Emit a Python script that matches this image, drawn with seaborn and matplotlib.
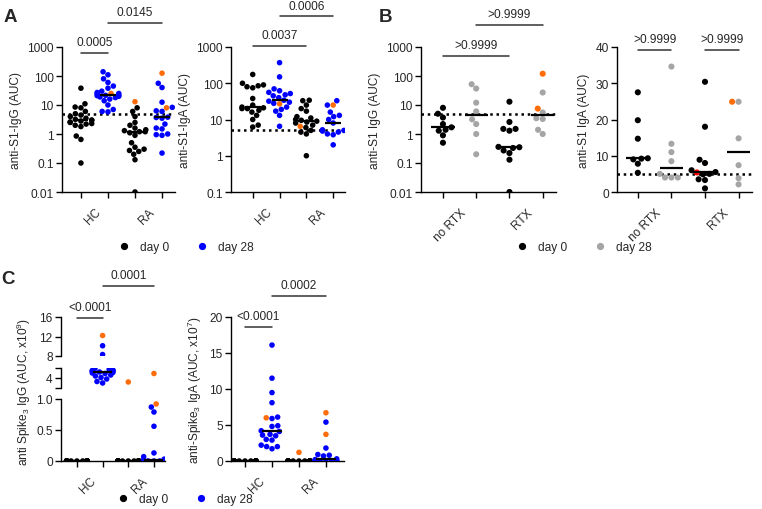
import matplotlib

matplotlib.use("Agg")
import matplotlib.pyplot as plt
import matplotlib.transforms as mtransforms
import numpy as np
import pandas as pd
import seaborn as sns
from matplotlib.lines import Line2D
from matplotlib.ticker import NullLocator

W, H = 762, 510
FS = 8.6

BLACK = "#000000"
BLUE = "#0000ff"
GREY = "#a5a5a5"
ORANGE = "#ff6c0a"
RED = "#ff0000"

# ---------------- data ----------------
LABELS_RA = ["HC", "RA"]
LABELS_RTX = ["no RTX", "RTX"]
LOG_TICKS_A1 = [0.01, 0.1, 1, 10, 100, 1000]
LOG_LABELS_A1 = ["0.01", "0.1", "1", "10", "100", "1000"]
LOG_TICKS_A2 = [0.1, 1, 10, 100, 1000]
LOG_LABELS_A2 = ["0.1", "1", "10", "100", "1000"]

# A: anti-S1 IgG
a1_hc_d0 = [38, 11, 8.5, 8, 6, 5, 4.5, 4, 3.5, 3.2, 3, 3, 2.8, 2.6, 2.5, 2.3, 2.2, 2, 1.8, 0.85, 0.65, 0.1]
a1_hc_d28 = [140, 110, 80, 60, 45, 38, 21.5, 30, 27, 25, 24, 22, 21, 20, 19, 18, 16, 14, 10, 7, 6, 5.8]
a1_hc_d28_hl = [25]
a1_ra_d0 = [8, 6, 4, 2.5, 2, 1.6, 1.4, 1.3, 1.2, 1.2, 1.1, 0.9, 0.5, 0.35, 0.3, 0.27, 0.25, 0.2, 0.13, 0.01]
a1_ra_d0_hl = [13]
a1_ra_d28 = [56, 40, 12.5, 8.3, 6.3, 6.0, 3.8, 3.7, 3.5, 2.2, 1.6, 1.5, 1.0, 0.95, 0.9, 0.22]
a1_ra_d28_hl = [125, 8]

# A: anti-S1 IgA
a2_hc_d0 = [175, 100, 90, 85, 80, 75, 38, 25, 22, 21, 20, 20, 18, 16, 13, 10, 7, 6.2]
a2_hc_d28 = [370, 150, 70, 62, 56, 52, 48, 45, 40, 34, 32, 30, 28, 22, 19, 17, 13, 6.5]
a2_hc_d28_hl = [27]
a2_ra_d0 = [34, 33, 25, 20, 17, 12, 11, 10, 9.5, 9, 8.5, 8, 7, 6, 5, 4.5, 4, 1.0]
a2_ra_d0_hl = [6.5]
a2_ra_d28 = [33, 25, 16, 13, 12, 10, 8, 5.2, 5, 4.8, 4.5, 4, 3.8, 2.0]
a2_ra_d28_hl = [25]

# B: anti-S1 IgG by RTX
b1_norx_d0 = [8, 5, 3.7, 2.2, 1.7, 1.4, 1.3, 0.9, 0.5]
b1_norx_d28 = [52, 37, 12, 6, 3.2, 2.2, 1.0, 0.2]
b1_rtx_d0 = [13, 2.6, 1.5, 1.5, 1.3, 0.36, 0.35, 0.33, 0.27, 0.22, 0.13, 0.01]
b1_rtx_d28 = [27, 5.5, 3.5, 3.3, 1.4, 1.0]
b1_rtx_d28_hl = [120, 7.5]

# B: anti-S1 IgA by RTX
b2_norx_d0 = [27.5, 19.8, 14.7, 9.3, 9.2, 9.0, 7.8, 5.3]
b2_norx_d28 = [34.6, 13.3, 11, 8.5, 5.0, 4.0, 4.0, 4.0]
b2_rtx_d0 = [30.4, 18, 8.9, 8.0, 6.0, 5.5, 5.0, 4.9, 3.5, 3.3, 1.0]
b2_rtx_d0_red = [5.4]
b2_rtx_d28 = [24.9, 14.8, 7.4, 3.8, 2.1]
b2_rtx_d28_hl = [24.9]

# C: anti-Spike3 IgG (x10^9)
c1_hc_d0 = [0, 0, 0, 0, 0, 0, 0, 0, 0, 0, 0, 0, 0, 0, 0, 0, 0, 0, 0, 0, 0, 0]
c1_hc_d28 = [10.1, 8.3, 5.9, 5.7, 5.6, 5.5, 5.5, 5.4, 5.3, 5.3, 5.2, 5.1, 5.0, 4.9, 4.6, 4.4, 4.1, 3.8, 3.3, 3.0]
c1_hc_d28_hl = [12.2]
c1_ra_d0 = [0, 0, 0, 0, 0, 0, 0, 0, 0, 0, 0, 0, 0, 0, 0, 0, 0, 0, 0]
c1_ra_d0_hl = [3.2]
c1_ra_d28 = [0.87, 0.79, 0.56, 0.13, 0.07, 0.03, 0.02, 0, 0, 0, 0, 0, 0, 0, 0, 0]
c1_ra_d28_hl = [0.92, 4.9]

# C: anti-Spike3 IgA (x10^7)
c2_hc_d0 = [0, 0, 0, 0, 0, 0, 0, 0, 0, 0, 0, 0, 0, 0, 0, 0, 0, 0, 0, 0, 0, 0]
c2_hc_d28 = [16.1, 11.5, 9.5, 8.1, 6.1, 5.9, 4.9, 4.8, 4.2, 4.1, 3.7, 3.6, 3.5, 3.0, 2.9, 2.2, 2.0, 2.0, 1.7]
c2_hc_d28_hl = [6.0]
c2_ra_d0 = [0, 0, 0, 0, 0, 0, 0, 0, 0, 0, 0, 0, 0, 0, 0, 0, 0, 0, 0]
c2_ra_d0_hl = [1.2]
c2_ra_d28 = [5.4, 1.8, 0.9, 0.8, 0.7, 0.3, 0.2, 0, 0, 0, 0, 0, 0, 0]
c2_ra_d28_hl = [6.7, 3.7]

sns.set_theme(style="ticks")
plt.rcParams["font.family"] = ["Liberation Sans", "DejaVu Sans"]
plt.rcParams["mathtext.fontset"] = "custom"
plt.rcParams["mathtext.rm"] = "Liberation Sans"
plt.rcParams["mathtext.it"] = "Liberation Sans:italic"
plt.rcParams["axes.linewidth"] = 1.0
plt.rcParams["axes.edgecolor"] = "black"

fig = plt.figure(figsize=(W / 100, H / 100), dpi=100)


def px_axes(left, top, right, bottom):
    return fig.add_axes([left / W, 1 - bottom / H, (right - left) / W, (bottom - top) / H])


def draw_groups(ax, groups, palette, half_width, size=4.0):
    rows = []
    for i, (vals, hl, kind, hl_kind) in enumerate(groups):
        rows += [(str(i), v, kind) for v in vals]
        rows += [(str(i), v, hl_kind) for v in hl]
    df = pd.DataFrame(rows, columns=["pos", "value", "kind"])
    sns.swarmplot(data=df, x="pos", y="value", hue="kind", order=[str(i) for i in range(len(groups))],
                  palette=palette, size=size, linewidth=0, legend=False, ax=ax, zorder=3)
    for i, (vals, hl, _, _) in enumerate(groups):
        med = np.median(list(vals) + list(hl))
        ax.hlines(med, i - half_width, i + half_width, color="black", lw=1.6, zorder=4)


def style_axis(ax, xlim, labels, show_x=True):
    ax.set_xlim(*xlim)
    ax.spines[["top", "right"]].set_visible(False)
    ax.set_xlabel("")
    ax.yaxis.set_minor_locator(NullLocator())
    ax.tick_params(axis="both", which="major", length=4, width=1, labelsize=FS, color="black", pad=2)
    if show_x:
        ax.set_xticks([0, 1, 2, 3])
        ax.set_xticklabels([])
        ax.set_xticks([0.5, 2.5], minor=True)
        ax.set_xticklabels(labels, minor=True, rotation=45, ha="right", rotation_mode="anchor", fontsize=FS)
        ax.tick_params(axis="x", which="minor", length=0, pad=10)
    else:
        ax.spines["bottom"].set_visible(False)
        ax.set_xticks([])


def sig_bar(ax, x0, x1, y_px, text, gap=11):
    blend = mtransforms.blended_transform_factory(ax.transData, fig.transFigure)
    ax.plot([x0, x1], [1 - y_px / H] * 2, transform=blend, clip_on=False, color="#333333", lw=1.1)
    ax.text((x0 + x1) / 2, 1 - (y_px - gap) / H, text, transform=blend, ha="center", va="center", fontsize=FS)


pal_blue = {"d0": BLACK, "d28": BLUE, "hl": ORANGE, "red": RED}
pal_grey = {"d0": BLACK, "d28": GREY, "hl": ORANGE, "red": RED}

# ---- A1 ----
ax = px_axes(62, 48, 175, 193)
ax.set_yscale("log")
draw_groups(ax, [(a1_hc_d0, [], "d0", "hl"), (a1_hc_d28, a1_hc_d28_hl, "d28", "hl"),
                 (a1_ra_d0, a1_ra_d0_hl, "d0", "hl"), (a1_ra_d28, a1_ra_d28_hl, "d28", "hl")], pal_blue, 0.28)
ax.axhline(5, color="black", ls=(0, (1, 1.5)), lw=1.8, zorder=2)
ax.set_ylim(0.01, 1000)
ax.set_yticks(LOG_TICKS_A1)
ax.set_yticklabels(LOG_LABELS_A1)
ax.set_ylabel("anti-S1-IgG (AUC)", fontsize=FS)
style_axis(ax, (-0.7, 3.48), LABELS_RA)
sig_bar(ax, 0, 1, 54, "0.0005")
sig_bar(ax, 1, 3, 24, "0.0145")

# ---- A2 ----
ax = px_axes(231, 48, 345, 193)
ax.set_yscale("log")
draw_groups(ax, [(a2_hc_d0, [], "d0", "hl"), (a2_hc_d28, a2_hc_d28_hl, "d28", "hl"),
                 (a2_ra_d0, a2_ra_d0_hl, "d0", "hl"), (a2_ra_d28, a2_ra_d28_hl, "d28", "hl")], pal_blue, 0.3)
ax.axhline(5, color="black", ls=(0, (1, 1.5)), lw=1.8, zorder=2)
ax.set_ylim(0.1, 1000)
ax.set_yticks(LOG_TICKS_A2)
ax.set_yticklabels(LOG_LABELS_A2)
ax.set_ylabel("anti-S1-IgA (AUC)", fontsize=FS)
style_axis(ax, (-0.81, 3.44), LABELS_RA)
sig_bar(ax, 0, 2, 47, "0.0037")
sig_bar(ax, 1, 3, 17, "0.0006", gap=10)

# ---- B1 ----
ax = px_axes(421, 48, 556, 193)
ax.set_yscale("log")
draw_groups(ax, [(b1_norx_d0, [], "d0", "hl"), (b1_norx_d28, [], "d28", "hl"),
                 (b1_rtx_d0, [], "d0", "hl"), (b1_rtx_d28, b1_rtx_d28_hl, "d28", "hl")], pal_grey, 0.35, size=4.4)
ax.axhline(5, color="black", ls=(0, (1, 1.5)), lw=1.8, zorder=2)
ax.set_ylim(0.01, 1000)
ax.set_yticks(LOG_TICKS_A1)
ax.set_yticklabels(LOG_LABELS_A1)
ax.set_ylabel("anti-S1 IgG (AUC)", fontsize=FS)
style_axis(ax, (-0.66, 3.4), LABELS_RTX)
sig_bar(ax, 0, 2, 57, ">0.9999")
sig_bar(ax, 1, 3, 26, ">0.9999")

# ---- B2 ----
ax = px_axes(617, 48, 752, 193)
draw_groups(ax, [(b2_norx_d0, [], "d0", "hl"), (b2_norx_d28, [], "d28", "hl"),
                 (b2_rtx_d0, b2_rtx_d0_red, "d0", "red"), (b2_rtx_d28, b2_rtx_d28_hl, "d28", "hl")], pal_grey, 0.35, size=4.4)
ax.axhline(5, color="black", ls=(0, (1, 1.5)), lw=1.8, zorder=2)
ax.set_ylim(0, 40)
ax.set_yticks([0, 10, 20, 30, 40])
ax.set_ylabel("anti-S1 IgA (AUC)", fontsize=FS)
style_axis(ax, (-0.62, 3.4), LABELS_RTX)
sig_bar(ax, 0, 1, 51, ">0.9999")
sig_bar(ax, 2, 3, 51, ">0.9999")

# ---- C1 (broken axis) ----
c1_groups = [(c1_hc_d0, [], "d0", "hl"), (c1_hc_d28, c1_hc_d28_hl, "d28", "hl"),
             (c1_ra_d0, c1_ra_d0_hl, "d0", "hl"), (c1_ra_d28, c1_ra_d28_hl, "d28", "hl")]
c1_xlim = (-0.62, 3.43)
ax_top = px_axes(61, 318, 165, 357)
draw_groups(ax_top, c1_groups, pal_blue, 0.37)
ax_top.set_ylim(8, 16)
ax_top.set_yticks([8, 12, 16])
ax_top.set_ylabel("")
style_axis(ax_top, c1_xlim, LABELS_RA, show_x=False)

ax_mid = px_axes(61, 369, 165, 389)
draw_groups(ax_mid, c1_groups, pal_blue, 0.37)
ax_mid.set_ylim(2, 6)
ax_mid.set_yticks([2, 4, 6])
ax_mid.set_yticklabels(["", "4", ""])
ax_mid.set_ylabel("")
style_axis(ax_mid, c1_xlim, LABELS_RA, show_x=False)

ax_bot = px_axes(61, 400, 165, 462)
draw_groups(ax_bot, c1_groups, pal_blue, 0.37)
ax_bot.set_ylim(0, 1)
ax_bot.set_yticks([0, 0.5, 1.0])
ax_bot.set_yticklabels(["0", "0.5", "1.0"])
ax_bot.set_ylabel("")
style_axis(ax_bot, c1_xlim, LABELS_RA)
fig.text(24 / W, 1 - 392 / H, "anti Spike$_3$ IgG (AUC, x10$^9$)", rotation=90, ha="center", va="center", fontsize=FS)
sig_bar(ax_bot, 0, 1, 319, "<0.0001")
sig_bar(ax_bot, 1, 3, 287, "0.0001")

# ---- C2 ----
ax = px_axes(231, 318, 344, 462)
draw_groups(ax, [(c2_hc_d0, [], "d0", "hl"), (c2_hc_d28, c2_hc_d28_hl, "d28", "hl"),
                 (c2_ra_d0, c2_ra_d0_hl, "d0", "hl"), (c2_ra_d28, c2_ra_d28_hl, "d28", "hl")], pal_blue, 0.36)
ax.set_ylim(0, 20)
ax.set_yticks([0, 5, 10, 15, 20])
ax.set_ylabel("anti-Spike$_3$ IgA (AUC, x10$^7$)", fontsize=FS)
style_axis(ax, (-0.52, 3.67), LABELS_RA)
sig_bar(ax, 0, 1, 328, "<0.0001")
sig_bar(ax, 1, 3, 297, "0.0002")


# ---- legends and panel letters ----
def add_legend(x_px, y_px, day28_color):
    handles = [Line2D([], [], marker="o", ls="", color=BLACK, markersize=4.2),
               Line2D([], [], marker="o", ls="", color=day28_color, markersize=4.2)]
    fig.legend(handles, ["day 0", "day 28"], ncol=2, frameon=False, loc="center left",
               bbox_to_anchor=(x_px / W, 1 - y_px / H), borderaxespad=0, borderpad=0,
               handlelength=0.8, handletextpad=0.9, columnspacing=2.4, fontsize=FS)


add_legend(119.6, 248, BLUE)
add_legend(517.6, 248, GREY)
add_legend(118.6, 500, BLUE)

for letter, x, y in [("A", 10, 18), ("B", 386, 18), ("C", 8, 280)]:
    fig.text(x / W, 1 - y / H, letter, fontsize=13.5, fontweight="bold", ha="center", va="center")

fig.savefig("out.png", dpi=100)
